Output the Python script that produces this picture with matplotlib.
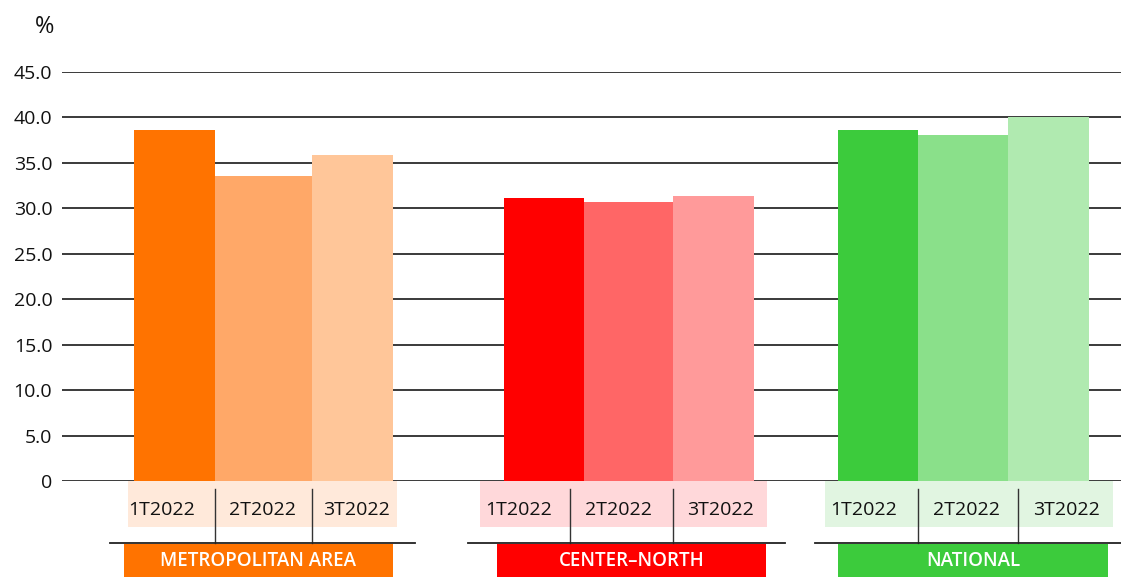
import matplotlib.pyplot as plt
from matplotlib.patches import Rectangle

plt.rcParams["font.family"] = ["Open Sans", "DejaVu Sans"]

groups = ["METROPOLITAN AREA", "CENTER\u2013NORTH", "NATIONAL"]
quarters = ["1T2022", "2T2022", "3T2022"]
metro = [38.6, 33.6, 35.9]
center_north = [31.1, 30.7, 31.4]
national = [38.6, 38.1, 40.0]
values = [metro, center_north, national]
yticks = [0, 5, 10, 15, 20, 25, 30, 35, 40, 45]

# colours per group: bars dark -> light, band, label box
bar_colors = [
    ["#FF7300", "#FFA868", "#FFC699"],
    ["#FF0000", "#FF6666", "#FF9A9A"],
    ["#3CCB3C", "#8AE08A", "#B0EAB0"],
]
band_colors = ["#FFE9DA", "#FFD8DA", "#E1F5E1"]
box_colors = ["#FF7300", "#FF0000", "#3CCB3C"]

# layout in pixel units (x axis spans 62..1121)
bar_edges = [[134, 215, 312, 393], [504, 584, 673, 754], [838, 918, 1008, 1089]]
band_span = [(128, 397), (480, 767), (825, 1113)]
sep_x = [(215, 312), (570, 673), (918, 1018)]
rule_span = [(110, 415), (468, 785), (815, 1121)]
box_span = [(124, 393), (497, 766), (838, 1108)]
label_x = [[162, 263, 357], [519, 619, 721], [864, 967, 1067]]

W, H = 1121, 577
fig = plt.figure(figsize=(W / 100, H / 100), dpi=100)
ax = fig.add_axes([62 / W, 1 - 481 / H, 1 - 62 / W, (481 - 72) / H])
ax.set_xlim(62, W)
ax.set_ylim(0, 45)

for y in yticks:
    ax.axhline(y, color="#3a3a3a", lw=1.4, zorder=1)

for g, vals in enumerate(values):
    e = bar_edges[g]
    for i, v in enumerate(vals):
        ax.bar(e[i], v, width=e[i + 1] - e[i], align="edge",
               color=bar_colors[g][i], zorder=2, linewidth=0)

for s in ax.spines.values():
    s.set_visible(False)
ax.set_xticks([])
ax.set_yticks(yticks)
ax.set_yticklabels([f"{t:.1f}" if t else "0" for t in yticks], fontsize=14, color="#111111")
ax.tick_params(axis="y", length=0, pad=7)
fig.text(45 / W, 1 - 27 / H, "%", fontsize=17, ha="center", va="center", color="#111111")

# category area below the axis, pixel coordinates
bx = fig.add_axes([62 / W, 0, 1 - 62 / W, (H - 481) / H])
bx.set_xlim(62, W)
bx.set_ylim(H, 481)
bx.axis("off")
for g in range(3):
    x0, x1 = band_span[g]
    bx.add_patch(Rectangle((x0, 481), x1 - x0, 46, color=band_colors[g], lw=0))
    for sx in sep_x[g]:
        bx.plot([sx, sx], [489, 543], color="#333333", lw=1)
    r0, r1 = rule_span[g]
    bx.plot([r0, r1], [543, 543], color="#222222", lw=1.3)
    b0, b1 = box_span[g]
    bx.add_patch(Rectangle((b0, 544), b1 - b0, 33, color=box_colors[g], lw=0))
    bx.text((b0 + b1) / 2, 561, groups[g], ha="center", va="center",
            fontsize=13.5, fontweight="semibold", color="white")
    for i, q in enumerate(quarters):
        bx.text(label_x[g][i], 510, q, ha="center", va="center",
                fontsize=14, color="#111111")

fig.savefig("out.png", dpi=100)
